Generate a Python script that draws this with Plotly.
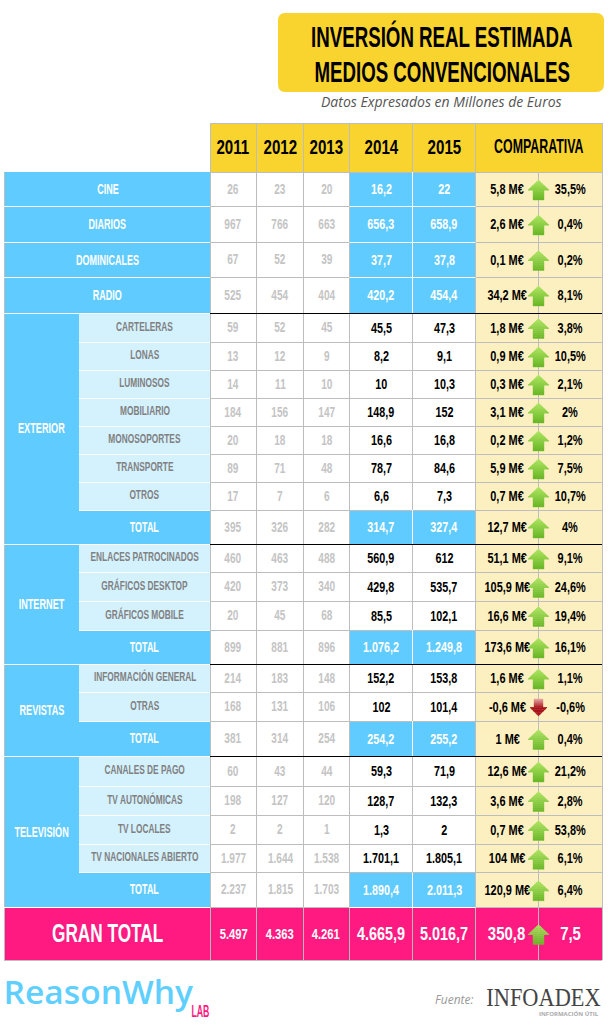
import json
import math

import plotly.graph_objects as go

# ---- datos ----
years = ["2011", "2012", "2013", "2014", "2015"]
row_labels = [
    "CINE", "DIARIOS", "DOMINICALES", "RADIO",
    "CARTELERAS", "LONAS", "LUMINOSOS", "MOBILIARIO", "MONOSOPORTES", "TRANSPORTE", "OTROS", "TOTAL",
    "ENLACES PATROCINADOS", "GRÁFICOS DESKTOP", "GRÁFICOS MOBILE", "TOTAL",
    "INFORMACIÓN GENERAL", "OTRAS", "TOTAL",
    "CANALES DE PAGO", "TV AUTONÓMICAS", "TV LOCALES", "TV NACIONALES ABIERTO", "TOTAL",
]
v2011 = ["26", "967", "67", "525", "59", "13", "14", "184", "20", "89", "17", "395",
         "460", "420", "20", "899", "214", "168", "381", "60", "198", "2", "1.977", "2.237"]
v2012 = ["23", "766", "52", "454", "52", "12", "11", "156", "18", "71", "7", "326",
         "463", "373", "45", "881", "183", "131", "314", "43", "127", "2", "1.644", "1.815"]
v2013 = ["20", "663", "39", "404", "45", "9", "10", "147", "18", "48", "6", "282",
         "488", "340", "68", "896", "148", "106", "254", "44", "120", "1", "1.538", "1.703"]
v2014 = ["16,2", "656,3", "37,7", "420,2", "45,5", "8,2", "10", "148,9", "16,6", "78,7", "6,6", "314,7",
         "560,9", "429,8", "85,5", "1.076,2", "152,2", "102", "254,2", "59,3", "128,7", "1,3", "1.701,1", "1.890,4"]
v2015 = ["22", "658,9", "37,8", "454,4", "47,3", "9,1", "10,3", "152", "16,8", "84,6", "7,3", "327,4",
         "612", "535,7", "102,1", "1.249,8", "153,8", "101,4", "255,2", "71,9", "132,3", "2", "1.805,1", "2.011,3"]
delta = ["5,8 M€", "2,6 M€", "0,1 M€", "34,2 M€", "1,8 M€", "0,9 M€", "0,3 M€", "3,1 M€", "0,2 M€", "5,9 M€", "0,7 M€", "12,7 M€",
         "51,1 M€", "105,9 M€", "16,6 M€", "173,6 M€", "1,6 M€", "-0,6 M€", "1 M€", "12,6 M€", "3,6 M€", "0,7 M€", "104 M€", "120,9 M€"]
pct = ["35,5%", "0,4%", "0,2%", "8,1%", "3,8%", "10,5%", "2,1%", "2%", "1,2%", "7,5%", "10,7%", "4%",
       "9,1%", "24,6%", "19,4%", "16,1%", "1,1%", "-0,6%", "0,4%", "21,2%", "2,8%", "53,8%", "6,1%", "6,4%"]
gran_total = ["5.497", "4.363", "4.261", "4.665,9", "5.016,7", "350,8", "7,5"]
groups = ["EXTERIOR", "INTERNET", "REVISTAS", "TELEVISIÓN"]

# ---- geometria (px) ----
W, H = 610, 1033
COLS = [210, 256.5, 303.5, 349.5, 412.5, 475.5]
MID, RIGHT, LEFT, SUB = 538.5, 602, 4, 79
EDGES = [172, 206, 242, 277, 313, 342, 370, 398, 426, 454, 482, 510, 544,
         572, 601, 630, 664, 692, 721, 756, 786, 815, 844, 872.5, 907]
GROUP_SPANS = [(4, 12), (12, 16), (16, 19), (19, 24)]
GROUP_Y = [427.5, 603, 709.5, 831.5]
TOTALS = [11, 15, 18, 23]

BLUE, PALE, YELLOW, CREAM, PINK, GRID = "#5FCBFF", "#D4F1FE", "#F9D42E", "#FDF0C0", "#FE1A80", "#BDBDBD"
SANS = "Liberation Sans, Arial, sans-serif"
OPEN = "Open Sans, sans-serif"

fig = go.Figure()
shapes, notes, squeeze = [], [], []


def rect(x0, y0, x1, y1, color):
    shapes.append(dict(type="rect", x0=x0, y0=y0, x1=x1, y1=y1, fillcolor=color, line_width=0, layer="below"))


def seg(x0, y0, x1, y1, color=GRID, width=1):
    # lineas nitidas: centradas en el pixel
    if x0 == x1:
        x0 = x1 = math.floor(x0) + 0.5
    if y0 == y1:
        y0 = y1 = math.floor(y0) + 0.5
    shapes.append(dict(type="line", x0=x0, y0=y0, x1=x1, y1=y1, line=dict(color=color, width=width), layer="below"))


def text(x, y, s, size, color="#000000", family=SANS, bold=True, italic=False, sx=1.0, weight=None):
    # sx: compresion horizontal (la fuente original es muy estrecha)
    if bold:
        s = f"<b>{s}</b>"
    if italic:
        s = f"<i>{s}</i>"
    font = dict(size=size, color=color, family=family)
    if weight:
        font["weight"] = weight
    notes.append(dict(x=x, y=y, text=s, showarrow=False, xanchor="center", yanchor="middle", font=font))
    squeeze.append(sx)


def arrow(cx, cy, up=True):
    # flecha con degradado: bandas horizontales
    if up:
        top_c, bot_c = (176, 230, 100), (104, 182, 38)
        h, hw, sw, head = 10, 10.5, 5.5, 10
    else:
        top_c, bot_c = (232, 170, 170), (168, 20, 28)
        h, hw, sw, head = 8.5, 8.5, 4.5, 8.5
    n = 10

    def half(t):
        # semiancho en la posicion t (0 arriba, 1 abajo)
        d = t * 2 * h if up else (1 - t) * 2 * h
        return hw * d / head if d < head else sw

    for i in range(n):
        t0, t1 = i / n, (i + 1) / n
        mix = (i + .5) / n
        if not up:
            mix = min(1, mix * 2)  # la cabeza roja es casi solida
        c = [round(a + (b - a) * mix) for a, b in zip(top_c, bot_c)]
        cuts = [t0, t1]
        knee = head / (2 * h) if up else 1 - head / (2 * h)
        if t0 < knee < t1:
            cuts = [t0, knee, t1]
        left, right = [], []
        for t in cuts:
            y = cy - h + t * 2 * h
            w = half(t)
            if t == knee:
                # esquina de la cabeza
                left += [(cx - hw, y), (cx - sw, y)] if up else [(cx - sw, y), (cx - hw, y)]
                right += [(cx + hw, y), (cx + sw, y)] if up else [(cx + sw, y), (cx + hw, y)]
            else:
                left.append((cx - w, y))
                right.append((cx + w, y))
        pts = left + right[::-1]
        path = "M" + " L".join(f"{px},{py}" for px, py in pts) + " Z"
        color = f"rgb({c[0]},{c[1]},{c[2]})"
        shapes.append(dict(type="path", path=path, fillcolor=color,
                           line=dict(color=color, width=0.4), layer="above"))


# ---- titulo ----
shapes.append(dict(type="path", layer="below", fillcolor=YELLOW, line_width=0,
                   path="M285,13 L596,13 Q604,13 604,21 L604,84 Q604,92 596,92 L285,92 Q278,92 278,84 L278,21 Q278,13 285,13 Z"))
text(441.5, 36, "INVERSIÓN REAL ESTIMADA", 29, sx=.645)
text(441.5, 71.5, "MEDIOS CONVENCIONALES", 29, sx=.645)
text(441.5, 101, "Datos Expresados en Millones de Euros", 14, "#555555", OPEN, bold=False, italic=True)

# ---- cabecera ----
rect(COLS[0], 123, RIGHT, 172, YELLOW)
xs = COLS + [RIGHT]
for i, y in enumerate(years):
    text((xs[i] + xs[i + 1]) / 2, 146, y, 21, sx=.72)
text((COLS[5] + RIGHT) / 2, 145.5, "COMPARATIVA", 21, sx=.59)

# ---- filas ----
values = [v2011, v2012, v2013, v2014, v2015]
for i, label in enumerate(row_labels):
    y0, y1 = EDGES[i], EDGES[i + 1]
    ym = (y0 + y1) / 2
    top_row = i < 4
    is_total = i in TOTALS
    blue_row = top_row or is_total

    if top_row:
        rect(LEFT, y0, COLS[0], y1, BLUE)
        text(107.8, ym - 0.5, label, 15, "#FFFFFF", sx=.6)
    else:
        rect(SUB, y0, COLS[0], y1, BLUE if is_total else PALE)
        if is_total:
            text(144.7, ym - 1, label, 15, "#FFFFFF", sx=.6)
        else:
            text(144.7, ym - 1.5, label, 13, "#808080", sx=.64)

    rect(COLS[5], y0, RIGHT, y1, CREAM)
    if blue_row:
        rect(COLS[3], y0, COLS[5], y1, BLUE)
    for k, col in enumerate(values):
        cx = (xs[k] + xs[k + 1]) / 2
        if k < 3:
            text(cx, ym - 0.5, col[i], 14, "#C4C4C4", sx=.72)
        else:
            text(cx, ym - 0.5, col[i], 15, "#FFFFFF" if blue_row else "#000000", sx=.72)
    text(507.5, ym - 0.5, delta[i], 15, sx=.73)
    text(570, ym - 0.5, pct[i], 15, sx=.73)

# columna de grupos
for (a, b), g, gy in zip(GROUP_SPANS, groups, GROUP_Y):
    rect(LEFT, EDGES[a], SUB, EDGES[b], BLUE)
    text(41.6, gy, g, 15, "#FFFFFF", sx=.61)

# ---- gran total ----
rect(LEFT, 907, RIGHT, 960, PINK)
text(107.8, 933, "GRAN TOTAL", 26.5, "#FFFFFF", sx=.65)
gt_x = [233.5, 279.5, 326, 381.3, 444, 506.6, 570.4]
gt_size = [15, 15, 15, 18, 18, 18, 18]
gt_sx = [.75, .75, .75, .8, .8, .83, .83]
for x, v, s, f in zip(gt_x, gran_total, gt_size, gt_sx):
    text(x, 933.5, v, s, "#FFFFFF", sx=f)

# ---- rejilla ----
seg(COLS[0], 123, RIGHT, 123)
seg(LEFT, 960, RIGHT, 960)
seg(LEFT, 172, LEFT, 960)
for x in COLS + [RIGHT]:
    seg(x, 123, x, 960)
seg(MID, 172, MID, 960)
for y in EDGES:
    seg(COLS[0], y, RIGHT, y)
# separadores blancos dentro de las zonas azules
for i in range(24):
    y0, y1 = EDGES[i], EDGES[i + 1]
    if i < 4 or i in TOTALS:
        seg(COLS[4], y0, COLS[4], y1, "#FFFFFF")
        seg(COLS[3], y1, COLS[5], y1, "#FFFFFF")
    if i < 4:
        seg(LEFT, y1, COLS[0], y1, "#FFFFFF")
    else:
        seg(SUB, y1, COLS[0], y1, "#FFFFFF")
seg(LEFT, 907, COLS[0], 907, "#FFFFFF")
# lineas negras entre grupos
for y in [313, 544, 664, 756]:
    seg(COLS[0], y, RIGHT, y, "#000000")
    seg(LEFT, y, COLS[0], y, "#FFFFFF")

# ---- flechas ----
for i in range(24):
    arrow(MID, (EDGES[i] + EDGES[i + 1]) / 2 + 1, up=not delta[i].startswith("-"))
arrow(MID, 934.5)

# ---- pie ----
text(98.5, 991, "ReasonWhy", 32, "#5FCFFF", OPEN, bold=False, sx=1.05, weight=600)
text(200, 1011, "LAB", 16, PINK, sx=.55)
text(453.5, 999, "Fuente:", 12, "#999999", OPEN, bold=False, italic=True)
text(543, 997, "INFOADEX", 26, "#444444", "Liberation Serif, serif", bold=False, sx=.86)
text(569, 1014, "INFORMACIÓN ÚTIL", 6, "#AAAAAA", OPEN)

fig.add_trace(go.Scatter(x=[0, W], y=[0, H], mode="markers", marker=dict(opacity=0), hoverinfo="skip", showlegend=False))
fig.update_layout(
    width=W, height=H, margin=dict(l=0, r=0, t=0, b=0),
    paper_bgcolor="#FFFFFF", plot_bgcolor="#FFFFFF",
    xaxis=dict(range=[0, W], visible=False, fixedrange=True),
    yaxis=dict(range=[H, 0], visible=False, fixedrange=True),
    shapes=shapes, annotations=notes,
)

# comprimir en horizontal los textos una vez dibujados
post = """
document.body.style.margin='0';
var sx = %s;
document.querySelectorAll('.annotation').forEach(function (a) {
  var t = a.querySelector('text'), f = sx[+a.getAttribute('data-index')];
  if (!t || f === 1) return;
  var b = t.getBBox(), cx = b.x + b.width / 2;
  t.setAttribute('transform', 'translate(' + cx + ',0) scale(' + f + ',1) translate(' + (-cx) + ',0)');
});
""" % json.dumps(squeeze)
fig.write_html("out.html", config={"displayModeBar": False}, post_script=post)
